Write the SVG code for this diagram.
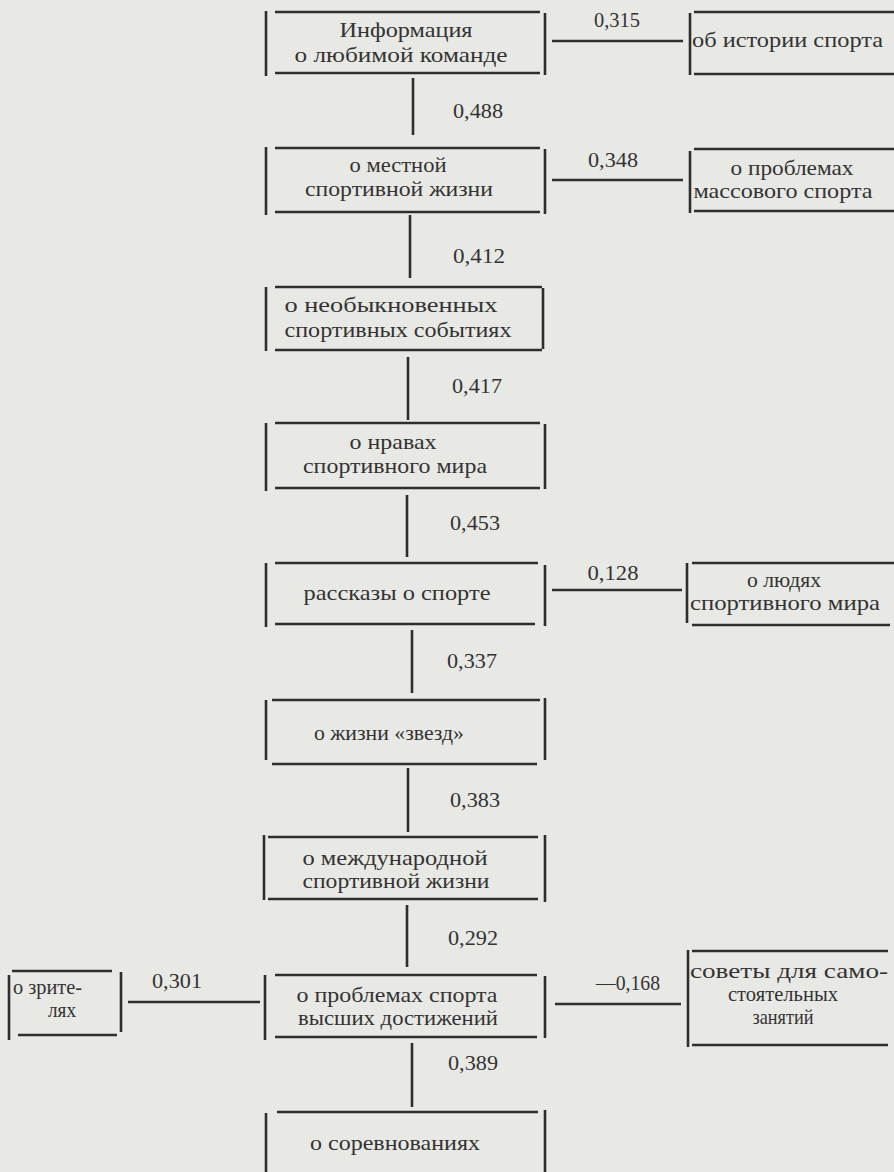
<svg xmlns="http://www.w3.org/2000/svg" width="894" height="1172" viewBox="0 0 894 1172">
<style>
.bg{fill:#e8e8e5}
line{stroke:#2e2e2e;stroke-width:2.6;stroke-linecap:butt}
text{font-family:"Liberation Serif","DejaVu Serif",serif;font-size:22px;fill:#333;text-anchor:middle}
.n{font-size:22px}
.s{text-anchor:start}
</style>
<rect class="bg" x="0" y="0" width="894" height="1172"/>

<g id="connectors">
  <line x1="552" y1="41" x2="683" y2="41"/>
  <text class="n" x="617" y="27" textLength="46" lengthAdjust="spacingAndGlyphs">0,315</text>
  <line x1="413" y1="78" x2="413" y2="135"/>
  <text class="n" x="478" y="118" textLength="50" lengthAdjust="spacingAndGlyphs">0,488</text>
  <line x1="552" y1="180" x2="683" y2="180"/>
  <text class="n" x="613" y="167" textLength="50" lengthAdjust="spacingAndGlyphs">0,348</text>
  <line x1="410" y1="215" x2="410" y2="278"/>
  <text class="n" x="479" y="263" textLength="52" lengthAdjust="spacingAndGlyphs">0,412</text>
  <line x1="408" y1="357" x2="408" y2="420"/>
  <text class="n" x="477" y="393" textLength="50" lengthAdjust="spacingAndGlyphs">0,417</text>
  <line x1="407" y1="495" x2="407" y2="557"/>
  <text class="n" x="475" y="530" textLength="50" lengthAdjust="spacingAndGlyphs">0,453</text>
  <line x1="552" y1="590" x2="682" y2="590"/>
  <text class="n" x="613" y="580" textLength="51" lengthAdjust="spacingAndGlyphs">0,128</text>
  <line x1="412" y1="630" x2="412" y2="693"/>
  <text class="n" x="472" y="668" textLength="50" lengthAdjust="spacingAndGlyphs">0,337</text>
  <line x1="408" y1="768" x2="408" y2="832"/>
  <text class="n" x="475" y="807" textLength="50" lengthAdjust="spacingAndGlyphs">0,383</text>
  <line x1="407" y1="905" x2="407" y2="967"/>
  <text class="n" x="473" y="945" textLength="50" lengthAdjust="spacingAndGlyphs">0,292</text>
  <line x1="128" y1="1002" x2="260" y2="1002"/>
  <text class="n" x="177" y="988" textLength="50" lengthAdjust="spacingAndGlyphs">0,301</text>
  <line x1="555" y1="1004" x2="681" y2="1004"/>
  <text class="n" x="628" y="990" textLength="64" lengthAdjust="spacingAndGlyphs">—0,168</text>
  <line x1="412" y1="1043" x2="412" y2="1107"/>
  <text class="n" x="473" y="1070" textLength="50" lengthAdjust="spacingAndGlyphs">0,389</text>
</g>

<g id="node-team">
  <line x1="275" y1="12" x2="540" y2="12"/><line x1="275" y1="73" x2="540" y2="73"/>
  <line x1="266" y1="11" x2="266" y2="76"/><line x1="545" y1="13" x2="545" y2="75"/>
  <text x="406" y="37" textLength="133" lengthAdjust="spacingAndGlyphs">Информация</text>
  <text x="401" y="62" textLength="213" lengthAdjust="spacingAndGlyphs">о любимой команде</text>
</g>
<g id="node-history">
  <line x1="694" y1="12" x2="894" y2="12"/><line x1="694" y1="74" x2="894" y2="74"/>
  <line x1="690" y1="13" x2="690" y2="75"/>
  <text class="s" x="692" y="47" textLength="191" lengthAdjust="spacingAndGlyphs">об истории спорта</text>
</g>
<g id="node-local">
  <line x1="275" y1="148" x2="540" y2="148"/><line x1="275" y1="212" x2="540" y2="212"/>
  <line x1="266" y1="147" x2="266" y2="215"/><line x1="545" y1="149" x2="545" y2="214"/>
  <text x="398" y="172" textLength="97" lengthAdjust="spacingAndGlyphs">о местной</text>
  <text x="399" y="196" textLength="188" lengthAdjust="spacingAndGlyphs">спортивной жизни</text>
</g>
<g id="node-mass">
  <line x1="694" y1="149" x2="894" y2="149"/><line x1="694" y1="211" x2="894" y2="211"/>
  <line x1="690" y1="151" x2="690" y2="213"/>
  <text x="792" y="175" textLength="123" lengthAdjust="spacingAndGlyphs">о проблемах</text>
  <text x="783" y="198" textLength="179" lengthAdjust="spacingAndGlyphs">массового спорта</text>
</g>
<g id="node-unusual">
  <line x1="275" y1="287" x2="542" y2="287"/><line x1="275" y1="350" x2="542" y2="350"/>
  <line x1="266" y1="287" x2="266" y2="351"/><line x1="543" y1="288" x2="543" y2="349"/>
  <text x="391" y="312" textLength="213" lengthAdjust="spacingAndGlyphs">о необыкновенных</text>
  <text x="398" y="337" textLength="227" lengthAdjust="spacingAndGlyphs">спортивных событиях</text>
</g>
<g id="node-morals">
  <line x1="275" y1="423" x2="540" y2="423"/><line x1="275" y1="488" x2="540" y2="488"/>
  <line x1="266" y1="423" x2="266" y2="491"/><line x1="545" y1="424" x2="545" y2="489"/>
  <text x="393" y="449" textLength="87" lengthAdjust="spacingAndGlyphs">о нравах</text>
  <text x="395" y="473" textLength="184" lengthAdjust="spacingAndGlyphs">спортивного мира</text>
</g>
<g id="node-stories">
  <line x1="275" y1="563" x2="538" y2="563"/><line x1="275" y1="624" x2="535" y2="624"/>
  <line x1="266" y1="563" x2="266" y2="627"/><line x1="545" y1="565" x2="545" y2="626"/>
  <text x="397" y="600" textLength="187" lengthAdjust="spacingAndGlyphs">рассказы о спорте</text>
</g>
<g id="node-people">
  <line x1="692" y1="563" x2="894" y2="563"/><line x1="692" y1="625" x2="890" y2="625"/>
  <line x1="687" y1="563" x2="687" y2="623"/>
  <text x="784" y="587" textLength="74" lengthAdjust="spacingAndGlyphs">о людях</text>
  <text x="785" y="610" textLength="190" lengthAdjust="spacingAndGlyphs">спортивного мира</text>
</g>
<g id="node-stars">
  <line x1="272" y1="700" x2="540" y2="700"/><line x1="272" y1="764" x2="537" y2="764"/>
  <line x1="266" y1="700" x2="266" y2="760"/><line x1="545" y1="698" x2="545" y2="760"/>
  <text x="389" y="740" textLength="150" lengthAdjust="spacingAndGlyphs">о жизни «звезд»</text>
</g>
<g id="node-international">
  <line x1="268" y1="837" x2="538" y2="837"/><line x1="268" y1="899" x2="538" y2="899"/>
  <line x1="264" y1="835" x2="264" y2="900"/><line x1="545" y1="835" x2="545" y2="902"/>
  <text x="395" y="865" textLength="185" lengthAdjust="spacingAndGlyphs">о международной</text>
  <text x="396" y="888" textLength="187" lengthAdjust="spacingAndGlyphs">спортивной жизни</text>
</g>
<g id="node-spectators">
  <line x1="12" y1="971" x2="112" y2="971"/><line x1="18" y1="1035" x2="117" y2="1035"/>
  <line x1="9" y1="975" x2="9" y2="1040"/><line x1="121" y1="972" x2="121" y2="1032"/>
  <text class="s" x="13" y="994" textLength="69" lengthAdjust="spacingAndGlyphs">о зрите-</text>
  <text x="62" y="1017" textLength="28" lengthAdjust="spacingAndGlyphs">лях</text>
</g>
<g id="node-elite">
  <line x1="275" y1="975" x2="537" y2="975"/><line x1="275" y1="1037" x2="537" y2="1037"/>
  <line x1="265" y1="975" x2="265" y2="1040"/><line x1="545" y1="976" x2="545" y2="1038"/>
  <text x="397" y="1002" textLength="201" lengthAdjust="spacingAndGlyphs">о проблемах спорта</text>
  <text x="398" y="1025" textLength="200" lengthAdjust="spacingAndGlyphs">высших достижений</text>
</g>
<g id="node-advice">
  <line x1="692" y1="951" x2="888" y2="951"/><line x1="692" y1="1045" x2="888" y2="1045"/>
  <line x1="688" y1="950" x2="688" y2="1047"/>
  <text class="s" x="690" y="978" textLength="198" lengthAdjust="spacingAndGlyphs">советы для само-</text>
  <text x="783" y="1001" textLength="110" lengthAdjust="spacingAndGlyphs">стоятельных</text>
  <text x="783" y="1024" textLength="61" lengthAdjust="spacingAndGlyphs">занятий</text>
</g>
<g id="node-competitions">
  <line x1="277" y1="1112" x2="538" y2="1112"/>
  <line x1="266" y1="1113" x2="266" y2="1172"/><line x1="545" y1="1110" x2="545" y2="1172"/>
  <text x="395" y="1150" textLength="170" lengthAdjust="spacingAndGlyphs">о соревнованиях</text>
</g>
</svg>
